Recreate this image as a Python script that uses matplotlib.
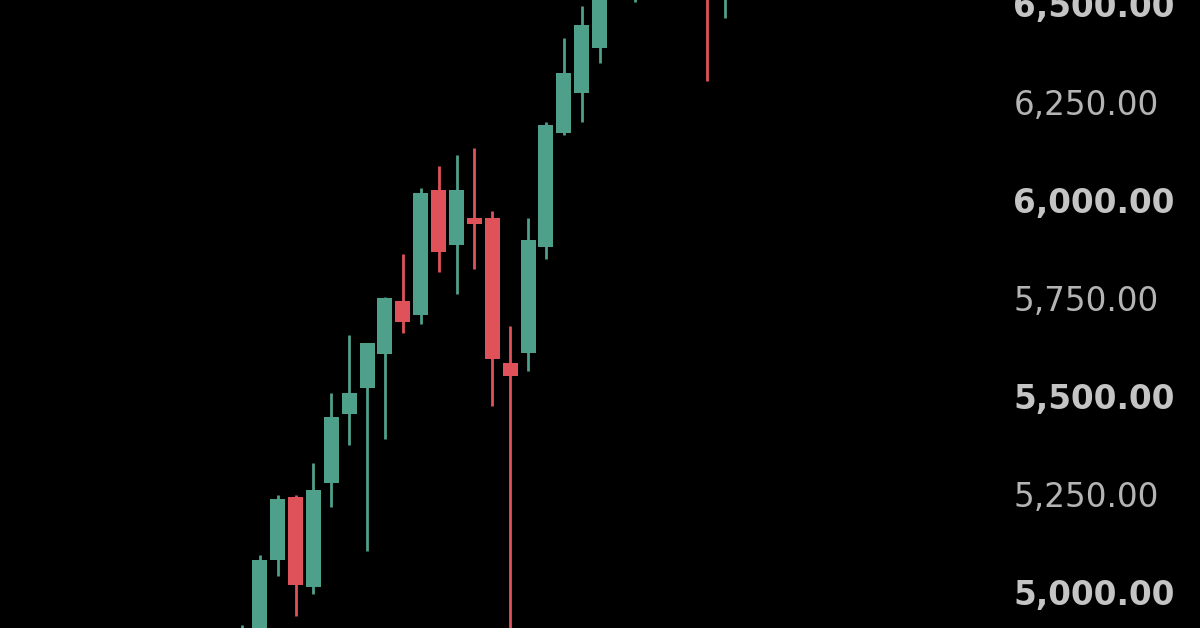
import matplotlib.pyplot as plt
import numpy as np

# OHLC values (one candle per period)
opens = [4820, 4880, 5089, 5250, 5020, 5286, 5462, 5528, 5615, 5750,
         5714, 6033, 5893, 5962, 5962, 5592, 5617, 5888, 6179, 6281,
         6395, 6560, 6580, 6600, 6620, 6640, 6700, 6600]
closes = [4900, 5089, 5245, 5026, 5268, 5454, 5515, 5643, 5758, 5696,
          6026, 5875, 6033, 5946, 5602, 5559, 5906, 6199, 6332, 6454,
          6560, 6620, 6640, 6620, 6650, 6690, 6600, 6680]
highs = [4923, 5102, 5255, 5255, 5337, 5515, 5663, 5643, 5760, 5870,
         6038, 6094, 6122, 6140, 5980, 5686, 5962, 6207, 6421, 6502,
         6600, 6650, 6680, 6660, 6690, 6720, 6720, 6700]
lows = [4800, 4860, 5048, 4946, 5003, 5224, 5383, 5112, 5398, 5668,
        5691, 5824, 5768, 5832, 5482, 4850, 5571, 5857, 6173, 6207,
        6357, 6530, 6513, 6560, 6590, 6600, 6311, 6472]

tick_values = [5000, 5250, 5500, 5750, 6000, 6250, 6500]

up_color = '#4fa08b'
down_color = '#e0525a'

fig = plt.figure(figsize=(12, 6.28), dpi=100, facecolor='black')
ax = fig.add_axes([0, 0, 1, 1])
ax.set_facecolor('black')

x = np.arange(len(opens))
o = np.array(opens)
c = np.array(closes)
colors = [up_color if cc >= oo else down_color for oo, cc in zip(o, c)]

# wicks
ax.vlines(x, lows, highs, colors=colors, linewidth=2.0, zorder=2)

# bodies (keep dojis visible)
bottoms = np.minimum(o, c)
heights = np.maximum(np.abs(c - o), 8)
ax.bar(x, heights, bottom=bottoms, width=0.84, color=colors, zorder=3)

ax.set_xlim(-13.53, 53.58)
ax.set_ylim(4916, 6518)
ax.axis('off')

# price labels on the right, every other one in bold
for i, v in enumerate(tick_values):
    bold = (i % 2 == 0)
    ax.text(0.8445, v, f'{v:,.2f}', transform=ax.get_yaxis_transform(),
            ha='left', va='center', fontsize=23.5,
            fontweight='bold' if bold else 'normal',
            color='#c4c4c4' if bold else '#b4b4b4',
            family='DejaVu Sans')

fig.savefig('out.png', dpi=100, facecolor='black')
